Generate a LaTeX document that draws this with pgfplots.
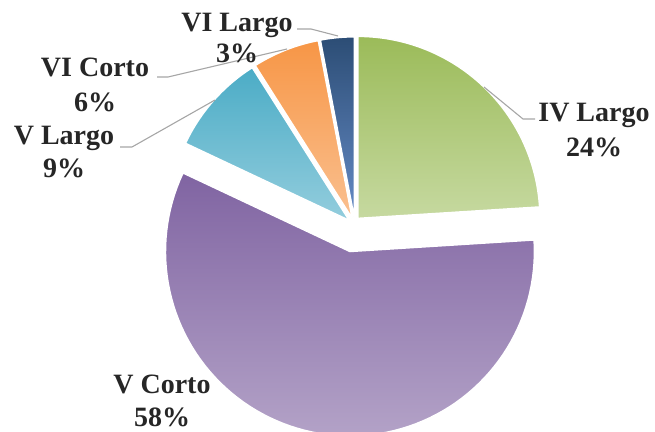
\documentclass[border=0pt]{standalone}
\usepackage{fontspec}
\setmainfont{Liberation Serif}
\usepackage{pgfplots}
\pgfplotsset{compat=1.18}
\definecolor{gA}{HTML}{9BBB59}\definecolor{gB}{HTML}{C6D9A0}
\definecolor{pA}{HTML}{8064A2}\definecolor{pB}{HTML}{B3A2C7}
\definecolor{tA}{HTML}{4BACC6}\definecolor{tB}{HTML}{93CDDD}
\definecolor{oA}{HTML}{F79646}\definecolor{oB}{HTML}{FAC090}
\definecolor{bA}{HTML}{2C4D75}\definecolor{bB}{HTML}{658BC6}
\definecolor{lead}{HTML}{A6A6A6}
\definecolor{txt}{HTML}{262626}
\tikzset{lbl/.style={font=\bfseries\fontsize{28}{33}\selectfont, text=txt, anchor=base, inner sep=0pt}}
% percentages of the five categories
\def\pIVL{24}\def\pVC{58}\def\pVL{9}\def\pVIC{6}\def\pVIL{3}
\pgfmathsetmacro\aA{90}
\pgfmathsetmacro\aB{\aA-3.6*\pIVL}
\pgfmathsetmacro\aC{\aB-3.6*\pVC}
\pgfmathsetmacro\aD{\aC-3.6*\pVL}
\pgfmathsetmacro\aE{\aD-3.6*\pVIC}
\pgfmathsetmacro\aF{\aE-3.6*\pVIL}
% #1 start angle, #2 end angle, #3 centre x, #4 centre y, #5 explode, #6 radius, #7/#8 colours
\newcommand\slice[8]{%
  \pgfmathsetmacro\mid{(#1+#2)/2}%
  \pgfmathsetmacro\ax{#3+#5*cos(\mid)}%
  \pgfmathsetmacro\ay{#4+#5*sin(\mid)}%
  \edef\tmp{\noexpand\addplot[draw=white, line width=1.5pt, top color=#7, bottom color=#8, domain=#2:#1, samples=90, variable=\noexpand\t]
    ({\ax+#6*cos(\noexpand\t)},{\ay+#6*sin(\noexpand\t)}) -- (axis cs:\ax,\ay) -- cycle;}%
  \tmp}
\begin{document}
\begin{tikzpicture}
\begin{axis}[x=1pt, y=1pt, xmin=0, xmax=655, ymin=0, ymax=431,
  scale only axis, hide axis, clip=false]
\slice{\aA}{\aB}{352.7}{207}{7.7}{182}{gA}{gB}
\slice{\aB}{\aC}{355.2}{207}{28}{184.5}{pA}{pB}
\slice{\aC}{\aD}{355}{205.5}{7.7}{181}{tA}{tB}
\slice{\aD}{\aE}{355}{205.5}{7.7}{181}{oA}{oB}
\slice{\aE}{\aF}{355}{205.5}{7.7}{181}{bA}{bB}
% leader lines
\addplot[lead, line width=1.1pt, mark=none] coordinates {(484,344) (523,312) (535,312)};
\addplot[lead, line width=1.1pt, mark=none] coordinates {(297,402) (311,402) (338,395)};
\addplot[lead, line width=1.1pt, mark=none] coordinates {(157,354) (168,354) (287,382)};
\addplot[lead, line width=1.1pt, mark=none] coordinates {(120,284) (132,284) (215,331)};
% labels
\node[lbl] at (axis cs:594,309) {IV Largo};
\node[lbl] at (axis cs:594,274) {24\%};
\node[lbl] at (axis cs:162,38) {V Corto};
\node[lbl] at (axis cs:162,5) {58\%};
\node[lbl] at (axis cs:64,286) {V Largo};
\node[lbl] at (axis cs:64,253) {9\%};
\node[lbl] at (axis cs:95,354) {VI Corto};
\node[lbl] at (axis cs:95,319) {6\%};
\node[lbl] at (axis cs:237,399) {VI Largo};
\node[lbl] at (axis cs:237,368) {3\%};
\end{axis}
\pgfresetboundingbox
\path[use as bounding box] (current axis.south west) rectangle (current axis.north east);
\end{tikzpicture}
\end{document}
